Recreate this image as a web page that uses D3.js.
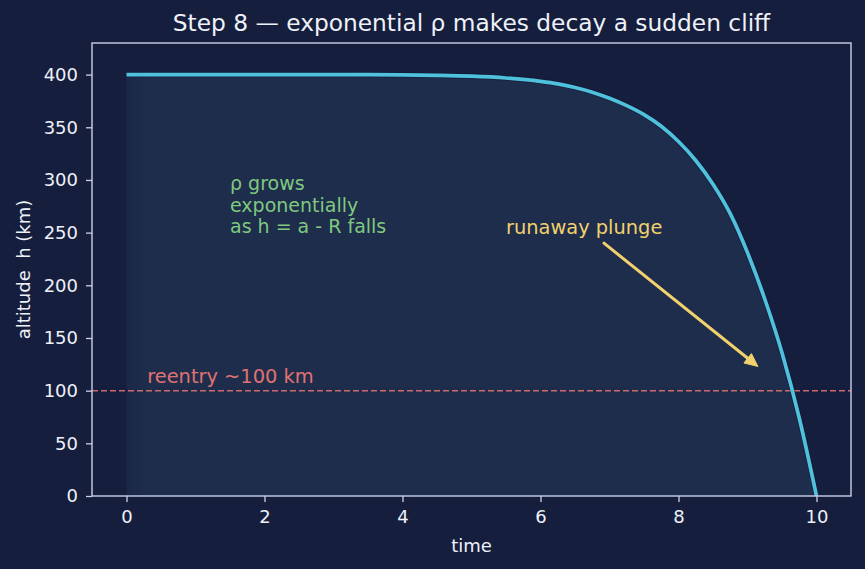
<!DOCTYPE html>
<html>
<head>
<meta charset="utf-8">
<script src="https://cdn.jsdelivr.net/npm/d3@7"></script>
<style>
  html, body { margin: 0; padding: 0; background: #151e3d; }
  svg { display: block; }
  text { font-family: "DejaVu Sans", sans-serif; white-space: pre; }
</style>
</head>
<body>
<svg id="chart" width="865" height="569"></svg>
<script>
// ---- data ----
const times = [0, 1, 2, 3, 3.5, 4, 4.5, 5, 5.5, 6, 6.25, 6.5, 6.75, 7, 7.25, 7.5, 7.75, 8, 8.25, 8.5, 8.75, 9, 9.25, 9.5, 9.75, 10];
const altitudes = [400, 400, 400, 400, 399.9, 399.7, 399.3, 398.5, 396.8, 393.6, 391.2, 387.8, 383.3, 377.5, 370.5, 362, 351, 336.5, 318.5, 296, 268, 231, 187, 136, 74, 0];
const xTicks = [0, 2, 4, 6, 8, 10];
const yTicks = [0, 50, 100, 150, 200, 250, 300, 350, 400];
const reentryAltitude = 100;
const reentryLabel = "reentry ~100 km";
const reentryLabelPos = [0.3, 107];
const noteLines = ["ρ grows", "exponentially", "as h = a - R falls"];
const notePos = [1.5, 290];
const plungeLabel = "runaway plunge";
const plungeLabelPos = [5.5, 249];
const plungeArrowFrom = [6.92, 240];
const plungeArrowTo = [9.15, 123];
const titleText = "Step 8 — exponential ρ makes decay a sudden cliff";
const xLabel = "time";
const yLabel = "altitude  h (km)";

// ---- layout ----
const W = 865, H = 569;
const m = { left: 92, right: 14, top: 43, bottom: 73 };
const svg = d3.select("#chart");
const x = d3.scaleLinear().domain([-0.5, 10.5]).range([m.left, W - m.right]);
const y = d3.scaleLinear().domain([0, 430]).range([H - m.bottom, m.top]);

const bg = "#151e3d";
const fg = "#c9d1e8";
const txt = "#eef1f8";

svg.append("rect").attr("width", W).attr("height", H).attr("fill", bg);

const pts = times.map((t, i) => [t, altitudes[i]]);

// area under curve
const defs = svg.append("defs");
const grad = defs.append("linearGradient").attr("id", "fillGrad")
  .attr("gradientUnits", "userSpaceOnUse")
  .attr("x1", x(0)).attr("x2", x(0.3)).attr("y1", 0).attr("y2", 0);
grad.append("stop").attr("offset", 0).attr("stop-color", "#1b2747");
grad.append("stop").attr("offset", 1).attr("stop-color", "#1e2d4c");

const curve = d3.curveMonotoneX;
const area = d3.area().x(d => x(d[0])).y0(y(0)).y1(d => y(d[1])).curve(curve);
svg.append("path").datum(pts).attr("d", area).attr("fill", "url(#fillGrad)");

// reentry line
svg.append("line")
  .attr("x1", x(-0.5)).attr("x2", x(10.5))
  .attr("y1", y(reentryAltitude)).attr("y2", y(reentryAltitude))
  .attr("stroke", "#e07272").attr("stroke-width", 1.5)
  .attr("stroke-dasharray", "6,3").attr("opacity", 0.9);

// curve
const line = d3.line().x(d => x(d[0])).y(d => y(d[1])).curve(curve);
svg.append("path").datum(pts).attr("d", line)
  .attr("fill", "none").attr("stroke", "#0f1730").attr("stroke-width", 5.5).attr("opacity", 0.45);
svg.append("path").datum(pts).attr("d", line)
  .attr("fill", "none").attr("stroke", "#4fc1dc").attr("stroke-width", 3.7);

// axes
const xAxis = svg.append("g").attr("transform", `translate(0,${H - m.bottom})`)
  .call(d3.axisBottom(x).tickValues(xTicks).tickFormat(d3.format("d")).tickSize(6).tickPadding(8));
const yAxis = svg.append("g").attr("transform", `translate(${m.left},0)`)
  .call(d3.axisLeft(y).tickValues(yTicks).tickFormat(d3.format("d")).tickSize(6).tickPadding(8));
[xAxis, yAxis].forEach(g => {
  g.select(".domain").remove();
  g.selectAll(".tick line").attr("stroke", fg).attr("stroke-width", 1.3);
  g.selectAll(".tick text").attr("fill", txt).style("font-size", "18px").style("font-family", "DejaVu Sans");
});

// frame
svg.append("rect").attr("x", m.left).attr("y", m.top)
  .attr("width", W - m.left - m.right).attr("height", H - m.top - m.bottom)
  .attr("fill", "none").attr("stroke", fg).attr("stroke-width", 1.4);

// annotations
svg.append("text").attr("x", x(reentryLabelPos[0])).attr("y", y(reentryLabelPos[1]))
  .attr("fill", "#e07272").style("font-size", "19.4px").text(reentryLabel);

const note = svg.append("text").attr("fill", "#7fc97f").style("font-size", "19px");
noteLines.forEach((s, i) => {
  note.append("tspan").attr("x", x(notePos[0])).attr("y", y(notePos[1]) + i * 21.5).text(s);
});

svg.append("text").attr("x", x(plungeLabelPos[0])).attr("y", y(plungeLabelPos[1]))
  .attr("fill", "#f1d16c").style("font-size", "19.4px").text(plungeLabel);

// arrow
const ax1 = x(plungeArrowFrom[0]), ay1 = y(plungeArrowFrom[1]);
const ax2 = x(plungeArrowTo[0]), ay2 = y(plungeArrowTo[1]);
const ang = Math.atan2(ay2 - ay1, ax2 - ax1);
const hl = 13, hw = 6;
const bx = ax2 - hl * Math.cos(ang), by = ay2 - hl * Math.sin(ang);
svg.append("line").attr("x1", ax1).attr("y1", ay1).attr("x2", bx).attr("y2", by)
  .attr("stroke", "#f1d16c").attr("stroke-width", 3).attr("stroke-linecap", "round");
svg.append("path")
  .attr("d", `M${ax2},${ay2} L${bx - hw * Math.sin(ang)},${by + hw * Math.cos(ang)} L${bx + hw * Math.sin(ang)},${by - hw * Math.cos(ang)} Z`)
  .attr("fill", "#f1d16c").attr("stroke", "#f1d16c").attr("stroke-width", 1).attr("stroke-linejoin", "round");

// title and labels
svg.append("text").attr("x", (m.left + W - m.right) / 2).attr("y", 31)
  .attr("text-anchor", "middle").attr("fill", txt).style("font-size", "23.3px").text(titleText);
svg.append("text").attr("x", (m.left + W - m.right) / 2).attr("y", 552)
  .attr("text-anchor", "middle").attr("fill", txt).style("font-size", "18px").text(xLabel);
svg.append("text").attr("transform", `translate(29.5,${(m.top + H - m.bottom) / 2}) rotate(-90)`)
  .attr("text-anchor", "middle").attr("fill", txt).style("font-size", "18px").text(yLabel);
</script>
</body>
</html>
